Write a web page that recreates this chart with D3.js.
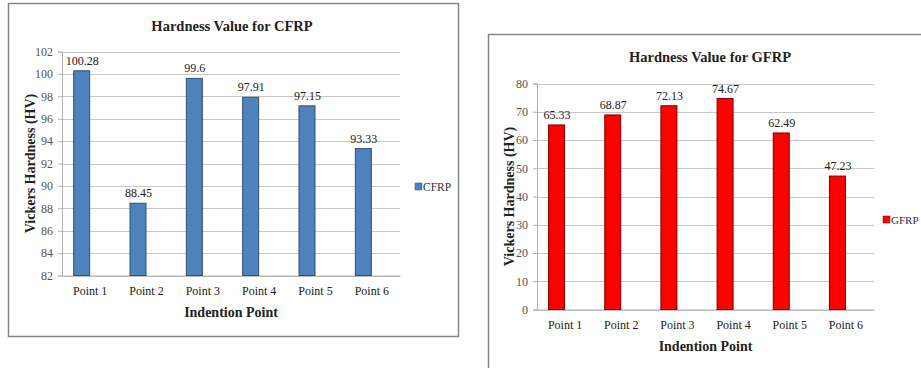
<!DOCTYPE html>
<html><head><meta charset="utf-8">
<script src="https://cdn.jsdelivr.net/npm/d3@7"></script>
<style>body{margin:0;background:#fff;} svg{display:block;}</style>
</head><body>
<svg id="c" width="921" height="368"></svg>
<script>
const categories = ["Point 1","Point 2","Point 3","Point 4","Point 5","Point 6"];
const cfrpValues = [100.28, 88.45, 99.6, 97.91, 97.15, 93.33];
const cfrpLabels = ["100.28","88.45","99.6","97.91","97.15","93.33"];
const gfrpValues = [65.33, 68.87, 72.13, 74.67, 62.49, 47.23];
const gfrpLabels = ["65.33","68.87","72.13","74.67","62.49","47.23"];
const cfrpTicks = [82,84,86,88,90,92,94,96,98,100,102];
const gfrpTicks = [0,10,20,30,40,50,60,70,80];

const svg = d3.select("#c");
const FONT = "'Liberation Serif','Times New Roman',serif";

function chart(o){
  const g = svg.append("g");
  g.append("rect").attr("x",o.box[0]+0.5).attr("y",o.box[1]+0.5)
    .attr("width",o.box[2]).attr("height",o.box[3])
    .attr("fill","#fff").attr("stroke","#868686").attr("stroke-width",1.5);
  const x = d3.scaleBand().domain(categories).range([o.x0,o.x1]);
  const y = d3.scaleLinear().domain(o.domain).range([o.yb,o.yt]);
  g.append("g").selectAll("line").data(o.ticks).join("line")
    .attr("x1",o.x0).attr("x2",o.x1)
    .attr("y1",d=>Math.round(y(d))+0.5).attr("y2",d=>Math.round(y(d))+0.5)
    .attr("stroke","#c8c8c8").attr("stroke-width",1);
  const ya = g.append("g").attr("transform",`translate(${o.x0},0)`)
    .call(d3.axisLeft(y).tickValues(o.ticks).tickSize(4).tickPadding(5).tickFormat(d3.format("d")));
  ya.select(".domain").attr("stroke","#b0b0b0");
  ya.selectAll(".tick line").attr("stroke","#b0b0b0");
  ya.selectAll("text").attr("font-family",FONT).attr("font-size",12).attr("fill","#555");
  const xa = g.append("g").attr("transform",`translate(0,${o.yb})`)
    .call(d3.axisBottom(x).tickSize(0).tickPadding(11));
  xa.select(".domain").attr("stroke","#b0b0b0");
  xa.selectAll("text").attr("font-family",FONT).attr("font-size",12).attr("fill","#222");
  const bw = o.bw;
  g.append("g").selectAll("rect").data(o.values).join("rect")
    .attr("x",(d,i)=>x(categories[i])+x.bandwidth()/2-bw-0.5)
    .attr("y",d=>y(d))
    .attr("width",bw).attr("height",d=>o.yb-y(d))
    .attr("fill",o.color).attr("stroke",o.stroke).attr("stroke-width",1);
  g.append("g").selectAll("text").data(o.values).join("text")
    .attr("x",(d,i)=>x(categories[i])+x.bandwidth()/2-bw/2)
    .attr("y",d=>y(d)-6)
    .attr("text-anchor","middle").attr("font-family",FONT).attr("font-size",12).attr("fill","#222")
    .text((d,i)=>o.labels[i]);
  g.append("text").attr("x",o.titleX).attr("y",o.titleY).attr("text-anchor","middle")
    .attr("font-family",FONT).attr("font-weight","bold").attr("font-size",14.5).attr("fill","#222")
    .text(o.title);
  g.append("text").attr("x",(o.x0+o.x1)/2).attr("y",o.xtY).attr("text-anchor","middle")
    .attr("font-family",FONT).attr("font-weight","bold").attr("font-size",14).attr("fill","#222")
    .text("Indention Point");
  g.append("text").attr("transform",`translate(${o.ytX},${(o.yt+o.yb)/2}) rotate(-90)`)
    .attr("text-anchor","middle").attr("font-family",FONT).attr("font-weight","bold")
    .attr("font-size",14).attr("fill","#222").text("Vickers Hardness (HV)");
  g.append("rect").attr("x",o.legX).attr("y",o.legY-4).attr("width",7).attr("height",7)
    .attr("fill",o.color).attr("stroke",o.stroke).attr("stroke-width",0.5);
  g.append("text").attr("x",o.legX+8).attr("y",o.legY+4)
    .attr("font-family",FONT).attr("font-size",o.legFs).attr("fill","#333").text(o.series);
}

chart({box:[8,3,450,333], x0:62, x1:400, yt:51.5, yb:275.5, domain:[82,102], ticks:cfrpTicks,
  values:cfrpValues, labels:cfrpLabels, color:"#4F81BD", stroke:"#2f5077", bw:16,
  title:"Hardness Value for CFRP", titleX:232, titleY:31, xtY:317, ytX:35,
  legX:415, legY:187, legFs:11.5, series:"CFRP"});

chart({box:[488,34,460,360], x0:537, x1:874, yt:83.5, yb:309.5, domain:[0,80], ticks:gfrpTicks,
  values:gfrpValues, labels:gfrpLabels, color:"#FF0000", stroke:"#7a0000", bw:16,
  title:"Hardness Value for GFRP", titleX:710, titleY:62, xtY:351, ytX:514,
  legX:883, legY:220, legFs:11, series:"GFRP"});
</script>
</body></html>
